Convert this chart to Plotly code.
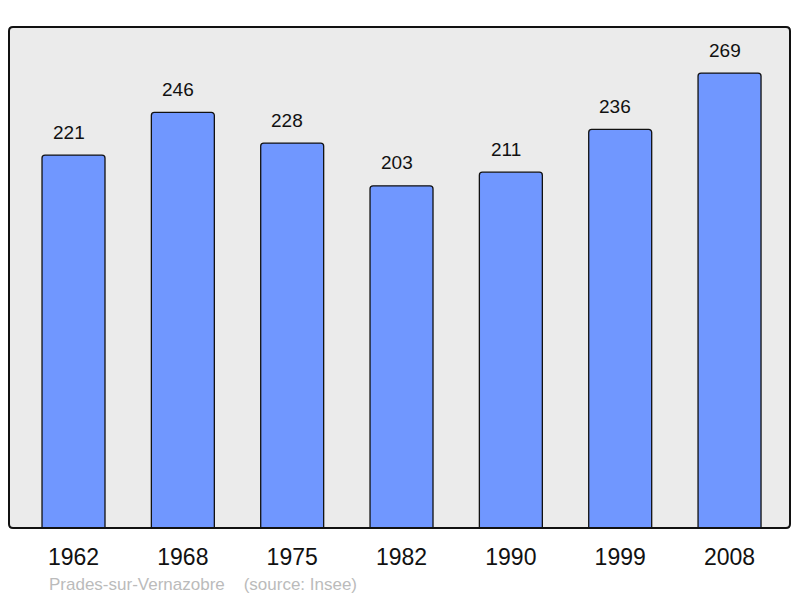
import plotly.graph_objects as go

years = ["1962", "1968", "1975", "1982", "1990", "1999", "2008"]
population = [221, 246, 228, 203, 211, 236, 269]
source_text = "Prades-sur-Vernazobre    (source: Insee)"

xs = list(range(len(years)))
FONT = "Liberation Sans, Arial, sans-serif"

fig = go.Figure()
fig.add_trace(go.Bar(
    x=xs, y=population, width=0.576,
    marker=dict(color="#7097ff", line=dict(color="#111111", width=1.3), cornerradius=3),
    hoverinfo="skip",
))

for x, v in zip(xs, population):
    fig.add_annotation(x=x, y=v, text=str(v), showarrow=False, yshift=23, xshift=-5,
                       yanchor="middle", font=dict(family=FONT, size=19, color="#111111"))

fig.add_annotation(xref="paper", yref="paper", x=0.049, y=-0.112, xanchor="left",
                   yanchor="middle", text=source_text, showarrow=False,
                   font=dict(family=FONT, size=17, color="#bbbbbb"))

# rounded panel border (radius ~4px, in paper units)
PW, PH = 781.0, 501.0
rx, ry = 4 / PW, 4 / PH
path = (f"M {rx},0 L {1-rx},0 Q 1,0 1,{ry} L 1,{1-ry} Q 1,1 {1-rx},1 "
        f"L {rx},1 Q 0,1 0,{1-ry} L 0,{ry} Q 0,0 {rx},0 Z")
fig.add_shape(type="path", xref="paper", yref="paper", path=path,
              line=dict(color="#111111", width=2), layer="above")

# page body has an 8px margin; compensate so the plot area sits where the reference has it
fig.update_layout(
    width=792, height=590,
    margin=dict(l=1, r=10, t=19, b=70),
    paper_bgcolor="white", plot_bgcolor="#ebebeb",
    showlegend=False,
    font=dict(family=FONT),
    xaxis=dict(range=[-0.59, 6.553], tickvals=xs, ticktext=years, showgrid=False,
               zeroline=False, showline=False, ticks="outside", ticklen=8,
               tickcolor="rgba(0,0,0,0)", tickfont=dict(size=23, color="#111111", family=FONT)),
    yaxis=dict(range=[2.6, 296], showgrid=False, zeroline=False, showticklabels=False,
               showline=False),
)

fig.write_html("out.html")
